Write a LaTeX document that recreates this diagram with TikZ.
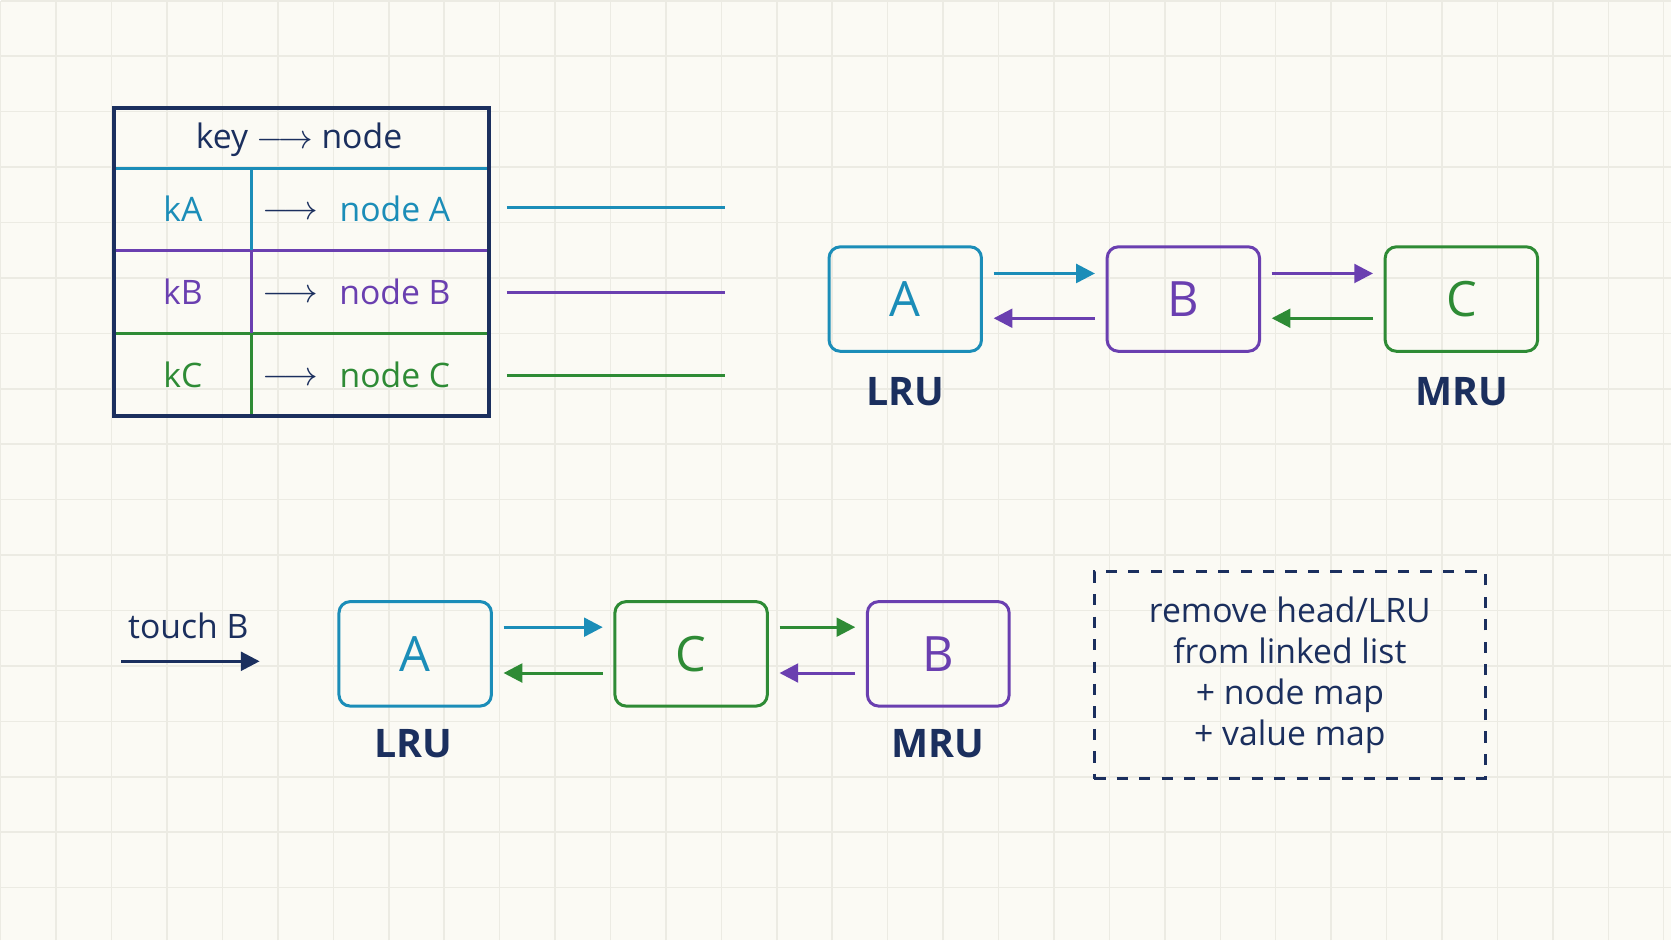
\documentclass[tikz,border=0pt]{standalone}
\usepackage{fontspec}
\setmainfont{Open Sans}
\usetikzlibrary{positioning, arrows.meta}

\definecolor{bgcream}{HTML}{FBFAF4}
\definecolor{gridline}{HTML}{ECEBE3}
\definecolor{lteal}{HTML}{1B8DB8}
\definecolor{lpurple}{HTML}{6A3FB0}
\definecolor{lgreen}{HTML}{2E8B35}
\definecolor{lnavy}{HTML}{1B2F5E}

\begin{document}
\begin{tikzpicture}[x=0.01cm, y=-0.01cm,
  % Node Styles
  lnode/.style={rectangle, rounded corners=3pt, draw=#1, text=#1, line width=0.8pt, minimum width=1.43cm, minimum height=0.98cm, font=\fontsize{13}{15}\selectfont},
  endlabel/.style={text=lnavy, font=\fontsize{10.5}{12}\selectfont\bfseries},
  celltext/.style={text=#1, font=\fontsize{9}{11}\selectfont},
  notebox/.style={rectangle, draw=lnavy, dashed, line width=0.8pt, minimum width=3.67cm, minimum height=1.94cm, align=center, text=lnavy, font=\fontsize{9}{11}\selectfont},
  % Arrow Styles
  linkarrow/.style={-{Triangle[length=5pt, width=5pt]}, line width=0.8pt, #1},
  maplink/.style={line width=0.8pt, #1}
]
% background and grid
\fill[bgcream] (0,0) rectangle (1568,882);
\draw[gridline, step=0.52cm, line width=0.4pt] (0,0) grid (1568,882);
\useasboundingbox (0,0) rectangle (1568,882);

% map table
\draw[lteal, line width=0.8pt] (106,157) -- (458,157);
\draw[lpurple, line width=0.8pt] (106,234) -- (458,234);
\draw[lgreen, line width=0.8pt] (106,312) -- (458,312);
\draw[lteal, line width=0.8pt] (235,157) -- (235,234);
\draw[lpurple, line width=0.8pt] (235,234) -- (235,312);
\draw[lgreen, line width=0.8pt] (235,312) -- (235,390);
\draw[lnavy, line width=1pt] (106,101) rectangle (458,390);
\node[celltext=lnavy] (hdr) at (280,130) {key $\longrightarrow$ node};
\node[celltext=lteal] (kA) at (171,195) {kA};
\node[celltext=lnavy] (arA) at (272,199) {$\longrightarrow$};
\node[celltext=lteal] (nA) at (370,195) {node A};
\node[celltext=lpurple] (kB) at (171,273) {kB};
\node[celltext=lnavy] (arB) at (272,277) {$\longrightarrow$};
\node[celltext=lpurple] (nB) at (370,273) {node B};
\node[celltext=lgreen] (kC) at (171,351) {kC};
\node[celltext=lnavy] (arC) at (272,355) {$\longrightarrow$};
\node[celltext=lgreen] (nC) at (370,351) {node C};

\coordinate (ptrA1) at (475,194);
\coordinate (ptrA2) at (680,194);
\coordinate (ptrB1) at (475,274);
\coordinate (ptrB2) at (680,274);
\coordinate (ptrC1) at (475,352);
\coordinate (ptrC2) at (680,352);
\draw[maplink=lteal] (ptrA1) -- (ptrA2);
\draw[maplink=lpurple] (ptrB1) -- (ptrB2);
\draw[maplink=lgreen] (ptrC1) -- (ptrC2);

% list before touch
\node[lnode=lteal] (A1) at (849,280) {A};
\node[lnode=lpurple] (B1) at (1110,280) {B};
\node[lnode=lgreen] (C1) at (1371,280) {C};
\node[endlabel] (lru1) at (849,367) {LRU};
\node[endlabel] (mru1) at (1371,367) {MRU};
\draw[linkarrow=lteal] ([yshift=0.24cm, xshift=0.1cm]A1.east) -- ([yshift=0.24cm, xshift=-0.1cm]B1.west);
\draw[linkarrow=lpurple] ([yshift=-0.18cm, xshift=-0.1cm]B1.west) -- ([yshift=-0.18cm, xshift=0.1cm]A1.east);
\draw[linkarrow=lpurple] ([yshift=0.24cm, xshift=0.1cm]B1.east) -- ([yshift=0.24cm, xshift=-0.1cm]C1.west);
\draw[linkarrow=lgreen] ([yshift=-0.18cm, xshift=-0.1cm]C1.west) -- ([yshift=-0.18cm, xshift=0.1cm]B1.east);

% touch B
\node[celltext=lnavy] (touch) at (176,587) {touch B};
\coordinate (tch1) at (113,620);
\coordinate (tch2) at (243,620);
\draw[linkarrow=lnavy] (tch1) -- (tch2);

% list after touch
\node[lnode=lteal] (A2) at (389,613) {A};
\node[lnode=lgreen] (C2) at (648,613) {C};
\node[lnode=lpurple, minimum width=1.33cm] (B2) at (880,613) {B};
\node[endlabel] (lru2) at (387,697) {LRU};
\node[endlabel] (mru2) at (880,697) {MRU};
\draw[linkarrow=lteal] ([yshift=0.25cm, xshift=0.1cm]A2.east) -- ([yshift=0.25cm, xshift=-0.1cm]C2.west);
\draw[linkarrow=lgreen] ([yshift=-0.18cm, xshift=-0.1cm]C2.west) -- ([yshift=-0.18cm, xshift=0.1cm]A2.east);
\draw[linkarrow=lgreen] ([yshift=0.25cm, xshift=0.1cm]C2.east) -- ([yshift=0.25cm, xshift=-0.1cm]B2.west);
\draw[linkarrow=lpurple] ([yshift=-0.18cm, xshift=-0.1cm]B2.west) -- ([yshift=-0.18cm, xshift=0.1cm]C2.east);

% note
\node[notebox] (note) at (1210,633) {remove head/LRU\\from linked list\\+ node map\\+ value map};
\end{tikzpicture}
\end{document}
